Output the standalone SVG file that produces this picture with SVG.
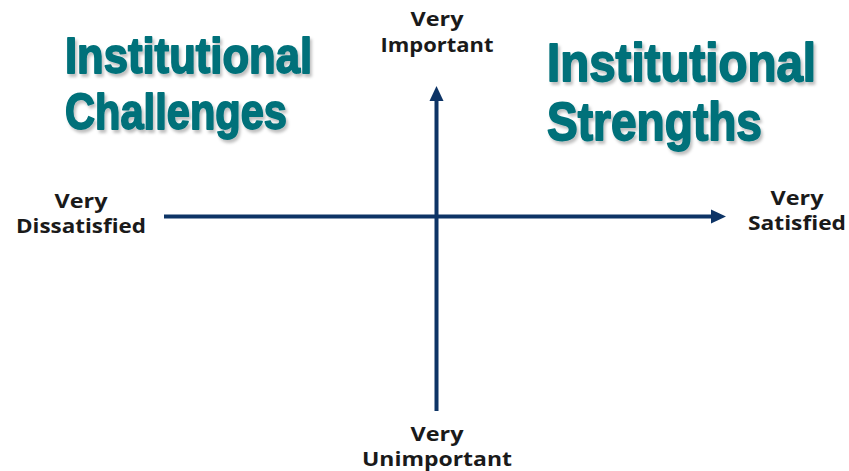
<svg xmlns="http://www.w3.org/2000/svg" width="849" height="471" viewBox="0 0 849 471">
  <defs>
    <filter id="shadow" x="-10%" y="-20%" width="120%" height="140%">
      <feDropShadow dx="2" dy="3" stdDeviation="1.5" flood-color="#000" flood-opacity="0.25"/>
    </filter>
    <style>
      .axis { stroke: #0d3466; stroke-width: 4; fill: none; }
      .head { fill: #0d3466; }
      .lbl { font-family: "Open Sans", "Liberation Sans", sans-serif; font-weight: bold; font-size: 20px; fill: #1a1a1a; text-anchor: middle; font-variant-ligatures: none; }
      .title { font-family: "Liberation Sans", Arial, sans-serif; font-weight: bold; fill: #00717a; stroke: #00717a; stroke-width: 1.8; stroke-linejoin: round; filter: url(#shadow); }
    </style>
  </defs>
  <rect width="849" height="471" fill="#ffffff"/>

  <g id="connectors">
    <line class="axis" x1="164" y1="216.5" x2="714" y2="216.5"/>
    <polygon class="head" points="711,209.5 726,216.5 711,223.5"/>
    <line class="axis" x1="436.5" y1="411" x2="436.5" y2="99"/>
    <polygon class="head" points="429.5,101 436.5,86 443.5,101"/>
  </g>

  <g id="title-challenges">
    <text class="title" font-size="50" x="65" y="73" textLength="247" lengthAdjust="spacingAndGlyphs">Institutional</text>
    <text class="title" font-size="50" x="65" y="129" textLength="222" lengthAdjust="spacingAndGlyphs">Challenges</text>
  </g>

  <g id="title-strengths">
    <text class="title" font-size="53" x="547" y="81" textLength="269" lengthAdjust="spacingAndGlyphs">Institutional</text>
    <text class="title" font-size="53" x="547" y="140" textLength="215" lengthAdjust="spacingAndGlyphs">Strengths</text>
  </g>

  <g id="label-important">
    <text class="lbl" x="437" y="26" textLength="53" lengthAdjust="spacingAndGlyphs">Very</text>
    <text class="lbl" x="437" y="52" textLength="113" lengthAdjust="spacingAndGlyphs">Important</text>
  </g>

  <g id="label-unimportant">
    <text class="lbl" x="437" y="441" textLength="53" lengthAdjust="spacingAndGlyphs">Very</text>
    <text class="lbl" x="437" y="466" textLength="150" lengthAdjust="spacingAndGlyphs">Unimportant</text>
  </g>

  <g id="label-dissatisfied">
    <text class="lbl" x="81" y="208" textLength="53" lengthAdjust="spacingAndGlyphs">Very</text>
    <text class="lbl" x="81" y="233" textLength="130" lengthAdjust="spacingAndGlyphs">Dissatisfied</text>
  </g>

  <g id="label-satisfied">
    <text class="lbl" x="797" y="205" textLength="53" lengthAdjust="spacingAndGlyphs">Very</text>
    <text class="lbl" x="797" y="230" textLength="98" lengthAdjust="spacingAndGlyphs">Satisfied</text>
  </g>
</svg>
